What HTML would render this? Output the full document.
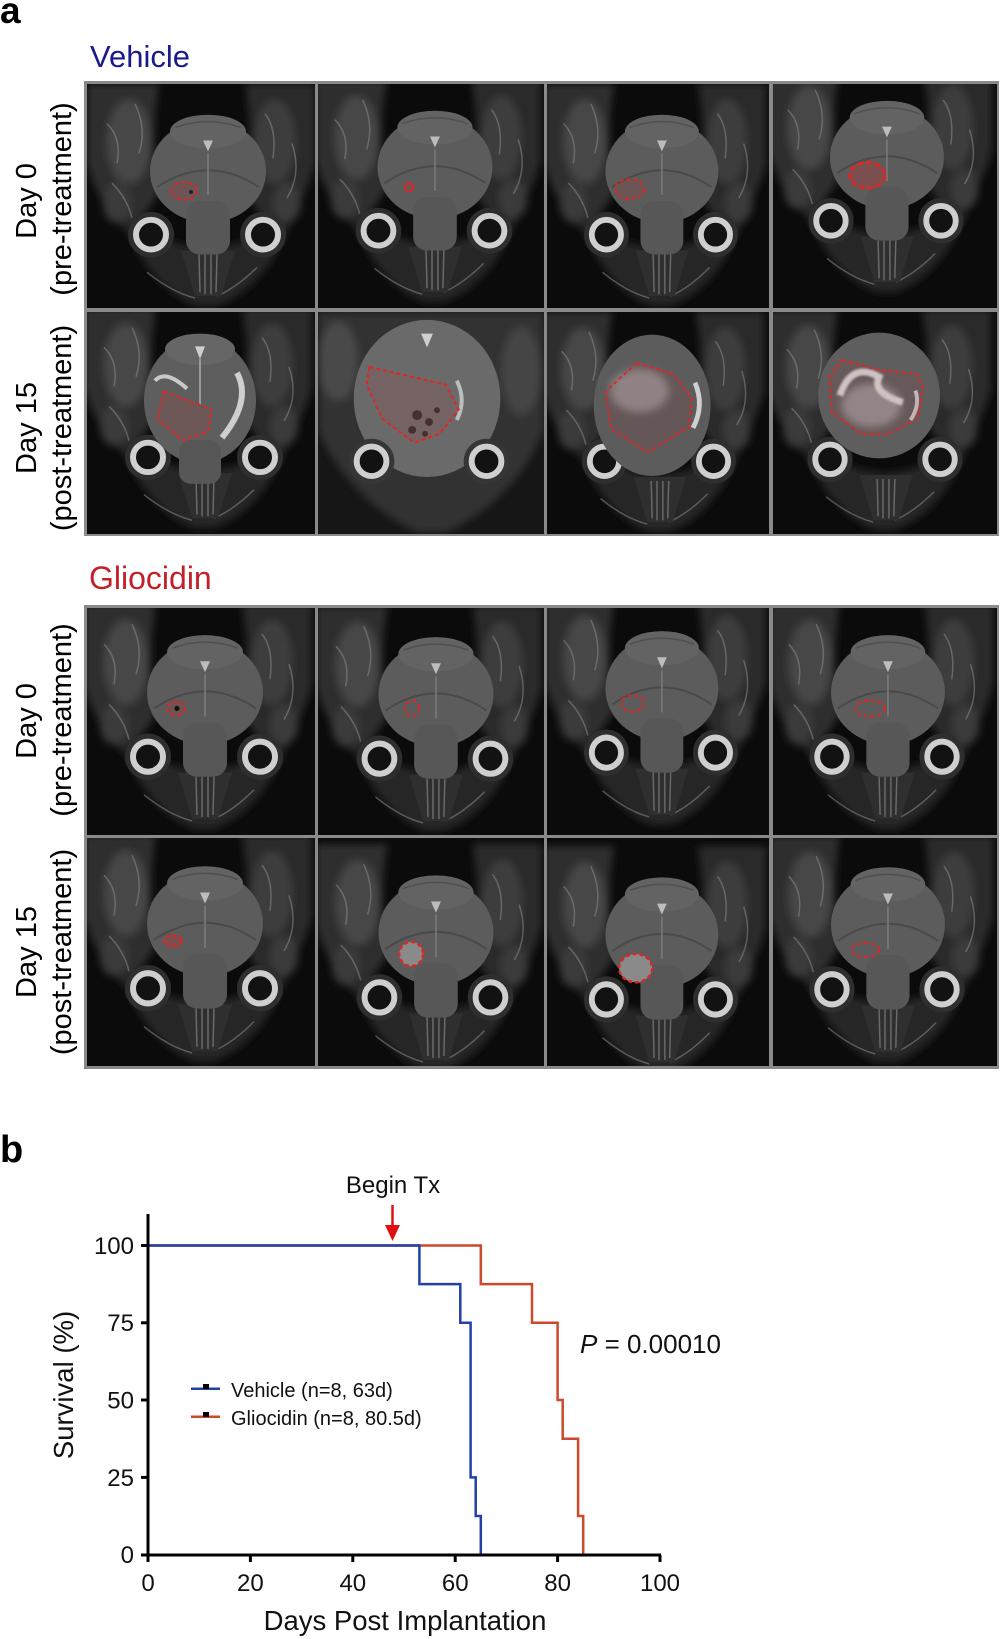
<!DOCTYPE html>
<html>
<head>
<meta charset="utf-8">
<style>
html,body{margin:0;padding:0;background:#fff;}
body{width:1000px;height:1639px;overflow:hidden;}
svg{display:block;}
text{font-family:"Liberation Sans",Arial,sans-serif;}
</style>
</head>
<body>
<svg width="1000" height="1639" viewBox="0 0 1000 1639" xmlns="http://www.w3.org/2000/svg">
<defs>
  <filter id="b3" x="-30%" y="-30%" width="160%" height="160%"><feGaussianBlur stdDeviation="4"/></filter>
  <filter id="b1" x="-30%" y="-30%" width="160%" height="160%"><feGaussianBlur stdDeviation="1.2"/></filter>
  <g id="base">
    <rect x="-20" y="-20" width="268" height="266" fill="#0b0b0b"/>
    <g filter="url(#b3)">
      <path d="M0 0 H72 Q62 60 72 110 Q52 140 42 150 Q10 120 0 80 Z" fill="#2e2e2e"/>
      <path d="M228 0 H158 Q168 60 158 110 Q178 140 190 150 Q218 120 228 80 Z" fill="#2c2c2c"/>
      <path d="M32 128 Q60 205 110 224 H130 Q182 205 208 128 Q170 162 120 166 Q70 162 32 128 Z" fill="#262626"/>
      <ellipse cx="42" cy="58" rx="22" ry="42" fill="#474747"/>
      <ellipse cx="188" cy="58" rx="20" ry="42" fill="#3c3c3c"/>
      <ellipse cx="30" cy="120" rx="14" ry="20" fill="#3a3a3a"/>
      <ellipse cx="200" cy="120" rx="14" ry="20" fill="#3a3a3a"/>
    </g>
    <g stroke="#8a8a8a" stroke-width="1.5" fill="none" opacity="0.55">
      <path d="M20 40 Q35 55 30 80"/>
      <path d="M48 20 Q60 45 52 70"/>
      <path d="M178 30 Q190 45 186 75"/>
      <path d="M205 60 Q215 90 200 115"/>
      <path d="M25 100 Q40 115 45 135"/>
      <path d="M60 190 Q85 210 108 216"/>
      <path d="M170 185 Q150 205 130 214"/>
    </g>
    <circle cx="64" cy="152" r="23" fill="#2e2e2e"/>
    <circle cx="176" cy="152" r="23" fill="#2e2e2e"/>
    <circle cx="64" cy="152" r="15" fill="#121212" stroke="#cfcfcf" stroke-width="6"/>
    <circle cx="176" cy="152" r="15" fill="#121212" stroke="#cfcfcf" stroke-width="6"/>
    <path d="M94 168 H148 L134 214 H108 Z" fill="#2f2f2f"/>
    <g stroke="#6a6a6a" stroke-width="1.5">
      <line x1="112" y1="172" x2="113" y2="210"/>
      <line x1="118" y1="172" x2="118" y2="212"/>
      <line x1="124" y1="172" x2="124" y2="212"/>
      <line x1="130" y1="172" x2="129" y2="210"/>
    </g>
  </g>
  <g id="brain">
    <ellipse cx="121" cy="88" rx="58" ry="52" fill="#5c5c5c"/>
    <ellipse cx="121" cy="48" rx="38" ry="17" fill="#636363"/>
    <rect x="99" y="118" width="44" height="54" rx="14" fill="#575757"/>
    <path d="M70 104 Q121 70 172 104" stroke="#4a4a4a" fill="none" stroke-width="2"/>
    <path d="M88 44 Q121 32 154 44" stroke="#505050" fill="none" stroke-width="1.5"/>
    <path d="M116 57 L126 57 L121 68 Z" fill="#bdbdbd"/>
    <line x1="121" y1="70" x2="121" y2="112" stroke="#7c7c7c" stroke-width="1.5"/>
  </g>
</defs>

<!-- Panel a label -->
<text x="0" y="23" font-size="37" font-weight="bold" fill="#000">a</text>
<text x="90" y="67" font-size="31" fill="#1a1a8c">Vehicle</text>
<text x="89" y="589" font-size="32" fill="#c4202a">Gliocidin</text>

<!-- row labels -->
<g font-size="29" fill="#000" text-anchor="middle">
  <text transform="translate(36,201) rotate(-90)">Day 0</text>
  <text transform="translate(71,199) rotate(-90)">(pre-treatment)</text>
  <text transform="translate(36,428) rotate(-90)">Day 15</text>
  <text transform="translate(71,428) rotate(-90)">(post-treatment)</text>
  <text transform="translate(36,721) rotate(-90)">Day 0</text>
  <text transform="translate(71,720) rotate(-90)">(pre-treatment)</text>
  <text transform="translate(36,952) rotate(-90)">Day 15</text>
  <text transform="translate(71,952) rotate(-90)">(post-treatment)</text>
</g>

<!-- grid backgrounds -->
<rect x="84" y="81" width="915" height="455" fill="#8a8a8a"/>
<rect x="84" y="605" width="915" height="464" fill="#8a8a8a"/>

<!-- VEHICLE ROW 1 -->
<svg x="87" y="84" width="228" height="224" viewBox="0 0 228 226" preserveAspectRatio="none">
  <use href="#base"/><use href="#brain"/>
  <ellipse cx="97" cy="108" rx="13" ry="9" fill="rgba(220,40,40,0.15)" stroke="#e02525" stroke-width="2" stroke-dasharray="4 3"/>
  <circle cx="104" cy="109" r="2" fill="#223"/>
</svg>
<svg x="318" y="84" width="226" height="224" viewBox="0 0 228 226" preserveAspectRatio="none">
  <g transform="translate(-3,-4)"><use href="#base"/><use href="#brain"/></g>
  <circle cx="92" cy="104" r="4" fill="none" stroke="#e02525" stroke-width="2"/>
</svg>
<svg x="547" y="84" width="222" height="224" viewBox="0 0 228 226" preserveAspectRatio="none">
  <g transform="translate(-3,0)"><use href="#base"/><use href="#brain"/></g>
  <ellipse cx="85" cy="106" rx="15" ry="10" fill="rgba(220,40,40,0.12)" stroke="#e02525" stroke-width="2" stroke-dasharray="4 3"/>
</svg>
<svg x="773" y="84" width="224" height="224" viewBox="0 0 228 226" preserveAspectRatio="none">
  <g transform="translate(-5,-14)"><use href="#base"/><use href="#brain"/></g>
  <ellipse cx="96" cy="92" rx="18" ry="13" fill="rgba(220,40,40,0.25)" stroke="#e02525" stroke-width="3" stroke-dasharray="6 3"/>
</svg>

<!-- VEHICLE ROW 2 -->
<svg x="87" y="312" width="228" height="222" viewBox="0 0 228 226" preserveAspectRatio="none">
  <g transform="translate(-3,-4)"><use href="#base"/></g>
  <ellipse cx="113" cy="90" rx="56" ry="64" fill="#5e5e5e"/>
  <ellipse cx="113" cy="38" rx="35" ry="16" fill="#666"/>
  <rect x="92" y="130" width="42" height="45" rx="12" fill="#575757"/>
  <path d="M108 35 L118 35 L113 48 Z" fill="#cfcfcf"/>
  <line x1="113" y1="48" x2="113" y2="95" stroke="#9a9a9a" stroke-width="2"/>
  <path d="M68 70 Q78 58 100 78" stroke="#c8c8c8" stroke-width="4" fill="none"/>
  <path d="M150 62 Q165 90 135 128" stroke="#cfcfcf" stroke-width="6" fill="none"/>
  <polygon points="77,81 125,99 121,122 96,131 70,109" fill="rgba(220,40,40,0.12)" stroke="#e02525" stroke-width="2" stroke-dasharray="4 3"/>
</svg>
<svg x="318" y="312" width="226" height="222" viewBox="0 0 228 226" preserveAspectRatio="none">
  <rect width="228" height="226" fill="#161616"/>
  <g filter="url(#b3)">
    <path d="M0 0 H228 V120 Q200 190 130 224 H100 Q30 190 0 120 Z" fill="#333"/>
    <ellipse cx="20" cy="50" rx="20" ry="40" fill="#4a4a4a"/>
    <ellipse cx="205" cy="60" rx="20" ry="45" fill="#444"/>
  </g>
  <ellipse cx="110" cy="88" rx="74" ry="80" fill="#6a6a6a"/>
  <path d="M104 22 L116 22 L110 36 Z" fill="#cfcfcf"/>
  <path d="M140 70 Q150 90 140 110" stroke="#bdbdbd" stroke-width="4" fill="none"/>
  <circle cx="54" cy="152" r="23" fill="#363636"/>
  <circle cx="170" cy="152" r="23" fill="#363636"/>
  <circle cx="54" cy="152" r="15" fill="#121212" stroke="#cfcfcf" stroke-width="6"/>
  <circle cx="170" cy="152" r="15" fill="#121212" stroke="#cfcfcf" stroke-width="6"/>
  <g fill="#333">
    <circle cx="100" cy="105" r="5"/><circle cx="112" cy="112" r="4"/><circle cx="95" cy="120" r="4"/>
    <circle cx="120" cy="100" r="3"/><circle cx="108" cy="124" r="3"/>
  </g>
  <polygon points="52,56 129,74 142,99 123,124 97,133 65,109 49,74" fill="rgba(220,40,40,0.1)" stroke="#e02525" stroke-width="2" stroke-dasharray="4 3"/>
</svg>
<svg x="547" y="312" width="222" height="222" viewBox="0 0 228 226" preserveAspectRatio="none">
  <g transform="translate(-5,0)"><use href="#base"/></g>
  <ellipse cx="108" cy="95" rx="60" ry="72" fill="#5c5c5c"/>
  <ellipse cx="95" cy="80" rx="30" ry="22" fill="#8a8a8a" filter="url(#b3)"/>
  <path d="M152 72 Q162 95 150 118" stroke="#cfcfcf" stroke-width="5" fill="none"/>
  <polygon points="92,52 130,63 149,88 146,117 104,143 66,120 60,81" fill="rgba(220,40,40,0.08)" stroke="#e02525" stroke-width="2" stroke-dasharray="4 3"/>
</svg>
<svg x="773" y="312" width="224" height="222" viewBox="0 0 228 226" preserveAspectRatio="none">
  <g transform="translate(-6,-2)"><use href="#base"/></g>
  <ellipse cx="108" cy="85" rx="62" ry="64" fill="#5e5e5e"/>
  <ellipse cx="100" cy="95" rx="30" ry="22" fill="#8e8e8e" filter="url(#b3)"/>
  <path d="M68 85 Q80 50 108 66 Q100 82 132 92" stroke="#d0d0d0" stroke-width="7" fill="none" filter="url(#b1)"/>
  <path d="M145 80 Q150 95 140 110" stroke="#c0c0c0" stroke-width="4" fill="none"/>
  <polygon points="70,49 108,59 147,63 153,77 147,109 115,125 89,124 60,102 57,67" fill="rgba(220,40,40,0.08)" stroke="#e02525" stroke-width="2" stroke-dasharray="4 3"/>
</svg>

<!-- GLIOCIDIN ROW 1 -->
<svg x="87" y="608" width="228" height="227" viewBox="0 0 228 226" preserveAspectRatio="none">
  <g transform="translate(-3,-4)"><use href="#base"/><use href="#brain"/></g>
  <ellipse cx="89" cy="100" rx="9" ry="7" fill="rgba(220,40,40,0.15)" stroke="#e02525" stroke-width="2" stroke-dasharray="4 3"/>
  <circle cx="90" cy="100" r="2.5" fill="#111"/>
</svg>
<svg x="318" y="608" width="226" height="227" viewBox="0 0 228 226" preserveAspectRatio="none">
  <g transform="translate(-2,-2)"><use href="#base"/><use href="#brain"/></g>
  <ellipse cx="95" cy="100" rx="7" ry="8" fill="none" stroke="#e02525" stroke-width="2" stroke-dasharray="4 3"/>
</svg>
<svg x="547" y="608" width="222" height="227" viewBox="0 0 228 226" preserveAspectRatio="none">
  <g transform="translate(-3,-8)"><use href="#base"/><use href="#brain"/></g>
  <ellipse cx="88" cy="95" rx="12" ry="8" fill="none" stroke="#e02525" stroke-width="2" stroke-dasharray="4 3"/>
</svg>
<svg x="773" y="608" width="224" height="227" viewBox="0 0 228 226" preserveAspectRatio="none">
  <g transform="translate(-4,-4)"><use href="#base"/><use href="#brain"/></g>
  <ellipse cx="99" cy="100" rx="15" ry="8" fill="none" stroke="#e02525" stroke-width="2" stroke-dasharray="4 3"/>
</svg>

<!-- GLIOCIDIN ROW 2 -->
<svg x="87" y="838" width="228" height="228" viewBox="0 0 228 226" preserveAspectRatio="none">
  <g transform="translate(-3,-3)"><use href="#base"/><use href="#brain"/></g>
  <ellipse cx="86" cy="102" rx="9" ry="6" fill="rgba(220,40,40,0.3)" stroke="#e02525" stroke-width="2" stroke-dasharray="4 3"/>
</svg>
<svg x="318" y="838" width="226" height="228" viewBox="0 0 228 226" preserveAspectRatio="none">
  <g transform="translate(-2,6)"><use href="#base"/><use href="#brain"/></g>
  <circle cx="94" cy="115" r="12" fill="#8a8a8a" stroke="#e02525" stroke-width="2.5" stroke-dasharray="4 3"/>
</svg>
<svg x="547" y="838" width="222" height="228" viewBox="0 0 228 226" preserveAspectRatio="none">
  <g transform="translate(-3,8)"><use href="#base"/><use href="#brain"/></g>
  <ellipse cx="91" cy="129" rx="17" ry="14" fill="#8a8a8a" stroke="#e02525" stroke-width="2.5" stroke-dasharray="4 3"/>
</svg>
<svg x="773" y="838" width="224" height="228" viewBox="0 0 228 226" preserveAspectRatio="none">
  <g transform="translate(-4,-2)"><use href="#base"/><use href="#brain"/></g>
  <ellipse cx="94" cy="111" rx="14" ry="7" fill="none" stroke="#e02525" stroke-width="2" stroke-dasharray="4 3"/>
</svg>

<!-- Panel b -->
<text x="0" y="1162" font-size="38" font-weight="bold" fill="#000">b</text>

<!-- Begin Tx -->
<text x="393" y="1193" font-size="24" fill="#111" text-anchor="middle">Begin Tx</text>
<line x1="392.5" y1="1205" x2="392.5" y2="1227" stroke="#e01010" stroke-width="2.5"/>
<polygon points="385,1225 400,1225 392.5,1241" fill="#e01010"/>

<!-- curves -->
<path d="M148,1245.5 H480.8 V1284.15 H532 V1322.8 H557.6 V1400 H562.7 V1438.7 H578.1 V1516 H583.2 V1554.7" fill="none" stroke="#cc4a2a" stroke-width="2.5"/>
<path d="M148,1245.5 H419.4 V1284.15 H460.3 V1322.8 H470.6 V1477.4 H475.7 V1516 H480.8 V1554.7" fill="none" stroke="#2240aa" stroke-width="2.5"/>

<!-- axes -->
<g stroke="#000" stroke-width="3" fill="none">
  <line x1="148" y1="1214" x2="148" y2="1556"/>
  <line x1="146.5" y1="1555" x2="661" y2="1555"/>
  <line x1="141" y1="1245.5" x2="148" y2="1245.5"/>
  <line x1="141" y1="1322.8" x2="148" y2="1322.8"/>
  <line x1="141" y1="1400" x2="148" y2="1400"/>
  <line x1="141" y1="1477.4" x2="148" y2="1477.4"/>
  <line x1="141" y1="1555" x2="148" y2="1555"/>
  <line x1="148" y1="1555" x2="148" y2="1562"/>
  <line x1="250.4" y1="1555" x2="250.4" y2="1562"/>
  <line x1="352.8" y1="1555" x2="352.8" y2="1562"/>
  <line x1="455.2" y1="1555" x2="455.2" y2="1562"/>
  <line x1="557.6" y1="1555" x2="557.6" y2="1562"/>
  <line x1="660" y1="1555" x2="660" y2="1562"/>
</g>

<g font-size="24" fill="#111" text-anchor="end">
  <text x="134" y="1254">100</text>
  <text x="134" y="1331">75</text>
  <text x="134" y="1408.5">50</text>
  <text x="134" y="1486">25</text>
  <text x="134" y="1563">0</text>
</g>
<g font-size="24" fill="#111" text-anchor="middle">
  <text x="148" y="1591">0</text>
  <text x="250.4" y="1591">20</text>
  <text x="352.8" y="1591">40</text>
  <text x="455.2" y="1591">60</text>
  <text x="557.6" y="1591">80</text>
  <text x="660" y="1591">100</text>
</g>
<text x="405" y="1630" font-size="27.5" fill="#111" text-anchor="middle">Days Post Implantation</text>
<text transform="translate(73,1385) rotate(-90)" font-size="27.5" fill="#111" text-anchor="middle">Survival (%)</text>

<!-- legend -->
<line x1="191" y1="1388.7" x2="220" y2="1388.7" stroke="#2240aa" stroke-width="2.5"/>
<rect x="203" y="1384" width="6" height="5" fill="#000"/>
<text x="231" y="1397" font-size="20" fill="#111">Vehicle (n=8, 63d)</text>
<line x1="191" y1="1416.7" x2="220" y2="1416.7" stroke="#cc4a2a" stroke-width="2.5"/>
<rect x="203" y="1412" width="6" height="5" fill="#000"/>
<text x="231" y="1425" font-size="20" fill="#111">Gliocidin (n=8, 80.5d)</text>

<!-- P value -->
<text x="580" y="1353" font-size="26" fill="#111"><tspan font-style="italic">P</tspan> = 0.00010</text>
</svg>
</body>
</html>
